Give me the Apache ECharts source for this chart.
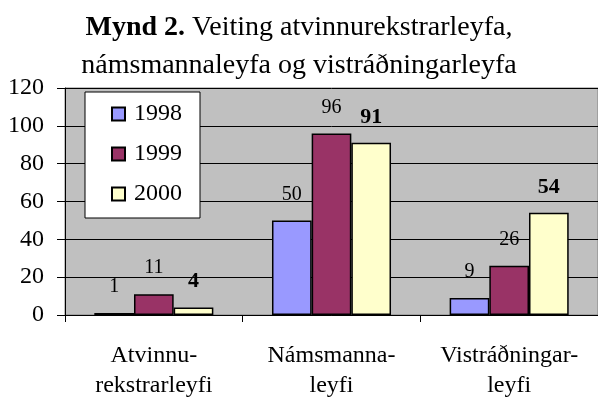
<!DOCTYPE html>
<html><head><meta charset="utf-8">
<script src="https://cdn.jsdelivr.net/npm/echarts@6/dist/echarts.min.js"></script>
<style>html,body{margin:0;padding:0;background:#fff}#c{width:598px;height:401px}</style>
</head><body><div id="c"></div>
<script>
const categories = ['Atvinnu-\nrekstrarleyfi', 'Námsmanna-\nleyfi', 'Vistráðningar-\nleyfi'];
const seriesNames = ['1998', '1999', '2000'];
const v1998 = [1, 50, 9];
const v1999 = [11, 96, 26];
const v2000 = [4, 91, 54];
const yTicks = [0, 20, 40, 60, 80, 100, 120];

const font = '"Liberation Serif", "Times New Roman", serif';
const colors = ['#9999FF', '#993366', '#FFFFCC'];
const values = [v1998, v1999, v2000];

const chart = echarts.init(document.getElementById('c'), null, {renderer: 'canvas'});
chart.setOption({
  animation: false,
  title: {
    text: '{b|Mynd 2.} {r|Veiting atvinnurekstrarleyfa,}\n{r|námsmannaleyfa og vistráðningarleyfa}',
    left: 'center', top: 4,
    textStyle: {
      fontFamily: font, fontSize: 28, fontWeight: 'normal', color: '#000', lineHeight: 38,
      rich: {
        b: {fontFamily: font, fontSize: 28, fontWeight: 'bold', color: '#000', lineHeight: 38},
        r: {fontFamily: font, fontSize: 28, fontWeight: 'normal', color: '#000', lineHeight: 38}
      }
    }
  },
  legend: {
    orient: 'vertical', left: 85, top: 92,
    backgroundColor: '#fff', borderColor: '#000', borderWidth: 1,
    padding: [10, 18, 12, 26],
    itemGap: 16, itemWidth: 13, itemHeight: 13, icon: 'rect',
    textStyle: {fontFamily: font, fontSize: 24, color: '#000', padding: [0, 0, 0, 4]},
    data: seriesNames
  },
  grid: {
    left: 65, right: -11, top: 88, bottom: 85,
    show: true, backgroundColor: '#C0C0C0', borderColor: '#808080', borderWidth: 1
  },
  xAxis: {
    type: 'category', data: categories,
    axisLine: {show: true, lineStyle: {color: '#000', width: 1}},
    axisTick: {show: true, alignWithLabel: false, length: 7, lineStyle: {color: '#000'}},
    axisLabel: {interval: 0, hideOverlap: false, fontFamily: font, fontSize: 24, color: '#000', margin: 26, lineHeight: 30}
  },
  yAxis: {
    type: 'value', min: 0, max: 120, interval: 20,
    axisLine: {show: true, lineStyle: {color: '#000', width: 1}},
    axisTick: {show: true, length: 8, lineStyle: {color: '#000'}},
    splitLine: {show: true, lineStyle: {color: '#000', width: 1}},
    axisLabel: {fontFamily: font, fontSize: 24, color: '#000', margin: 21,
      formatter: v => yTicks.includes(v) ? String(v) : ''}
  },
  series: seriesNames.map((n, i) => ({
    name: n, type: 'bar', data: values[i],
    barGap: '0%', barCategoryGap: '33%',
    itemStyle: {color: colors[i], borderColor: '#000', borderWidth: 1.5},
    label: {
      show: true, position: 'top', distance: i === 2 ? 15 : 16,
      fontFamily: font, fontSize: i === 2 ? 22 : 20,
      fontWeight: i === 2 ? 'bold' : 'normal', color: '#000'
    }
  }))
});
</script></body></html>
